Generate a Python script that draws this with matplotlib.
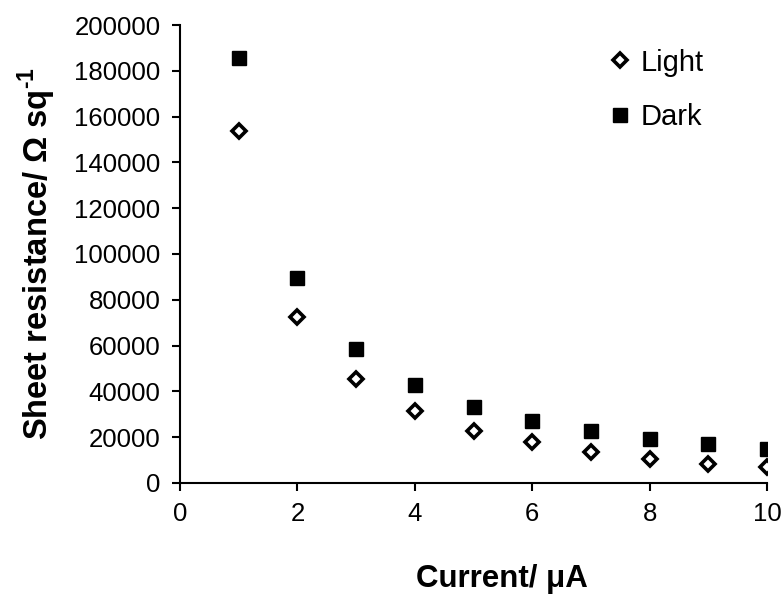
import matplotlib
matplotlib.use("Agg")
import matplotlib.pyplot as plt

current = [1, 2, 3, 4, 5, 6, 7, 8, 9, 10]
light = [153900, 72600, 45200, 31300, 22600, 17800, 13500, 10400, 8300, 7000]
dark = [185600, 89500, 58300, 42600, 33000, 27000, 22600, 19400, 17000, 15000]

plt.rcParams['font.family'] = ['Liberation Sans', 'DejaVu Sans']
plt.rcParams['mathtext.fontset'] = 'custom'
plt.rcParams['mathtext.rm'] = 'Liberation Sans:bold'
plt.rcParams['mathtext.bf'] = 'Liberation Sans:bold'

fig = plt.figure(figsize=(7.83, 5.94), dpi=100)
ax = fig.add_axes([0.2299, 0.1869, 0.7497, 0.7710])

ax.plot(current, light, linestyle='none', marker='D', markersize=7.5,
        markerfacecolor='white', markeredgecolor='black', markeredgewidth=2.6,
        label='Light')
ax.plot(current, dark, linestyle='none', marker='s', markersize=10.5,
        color='black', label='Dark')

ax.set_xlim(0, 10)
ax.set_ylim(0, 200000)
ax.set_xticks(range(0, 11, 2))
ax.set_yticks(range(0, 200001, 20000))
for s in ['top', 'right']:
    ax.spines[s].set_visible(False)
for s in ['left', 'bottom']:
    ax.spines[s].set_linewidth(1.5)
ax.tick_params(axis='both', direction='out', length=6, width=1.5, labelsize=18.5, pad=8)

ax.set_xlabel('Current/ μA', fontsize=22.5, fontweight='bold', labelpad=27, x=0.549)
ax.set_ylabel('Sheet resistance/ Ω sq$^{\\text{-1}}$', fontsize=23.5, fontweight='bold', labelpad=12)

ax.legend(loc='upper left', bbox_to_anchor=(0.777, 0.918), bbox_transform=fig.transFigure,
          frameon=False, fontsize=21, borderpad=0, borderaxespad=0,
          handletextpad=0.3, handlelength=0.8, labelspacing=0.9)

fig.savefig('out.png', dpi=100)
